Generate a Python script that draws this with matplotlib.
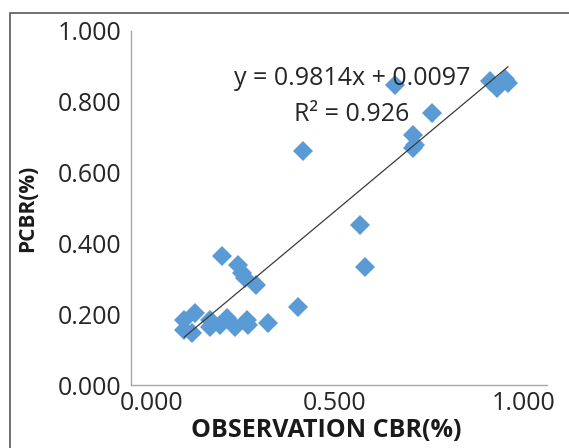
import matplotlib
matplotlib.use("Agg")
import matplotlib.pyplot as plt
import matplotlib.transforms as mtransforms
import numpy as np
from matplotlib.patches import Rectangle

# Datos
x_obs = [0.128, 0.128, 0.154, 0.146, 0.190, 0.190, 0.214, 0.230, 0.250, 0.278,
         0.281, 0.330, 0.218, 0.258, 0.266, 0.274, 0.300, 0.401, 0.414, 0.550,
         0.562, 0.635, 0.679, 0.683, 0.678, 0.723, 0.863, 0.879, 0.899, 0.906]
y_pcbr = [0.184, 0.155, 0.203, 0.146, 0.184, 0.165, 0.170, 0.188, 0.165, 0.184,
          0.170, 0.175, 0.364, 0.339, 0.315, 0.301, 0.282, 0.220, 0.660, 0.452,
          0.334, 0.847, 0.706, 0.678, 0.669, 0.769, 0.860, 0.838, 0.864, 0.853]

pendiente = 0.9814  # Pendiente de la linea de tendencia
ordenada = 0.0097  # Ordenada al origen
r2 = 0.926

x_ticks = [0.0, 0.5, 1.0]
y_ticks = [0.0, 0.2, 0.4, 0.6, 0.8, 1.0]

plt.rcParams['font.family'] = ['Open Sans', 'DejaVu Sans']

fig = plt.figure(figsize=(5.69, 4.48), dpi=100)
ax = fig.add_axes([131 / 569, 1 - 385 / 448, 416 / 569, 354 / 448])

# Puntos
ax.plot(x_obs, y_pcbr, linestyle="none", marker="D", markersize=9.8,
        color="#5B9BD5", markeredgewidth=0)

# Linea de tendencia
xt = np.array([min(x_obs), max(x_obs)])
ax.plot(xt, pendiente * xt + ordenada, color="#3a3a3a", linewidth=0.9)

ax.text(0.531, 0.867, "y = %.4fx + %.4f" % (pendiente, ordenada), ha="center",
        va="center", fontsize=18, color="#262626")
ax.text(0.531, 0.763, "R² = %.3f" % r2, ha="center", va="center", fontsize=18,
        color="#262626")

ax.set_xlim(0, 1)
ax.set_ylim(0, 1)
ax.set_xticks(x_ticks)
ax.set_yticks(y_ticks)
ax.set_xticklabels(["%.3f" % v for v in x_ticks])
ax.set_yticklabels(["%.3f" % v for v in y_ticks])
ax.tick_params(length=0, labelsize=18, labelcolor="#262626")
ax.tick_params(axis="x", pad=4)
ax.tick_params(axis="y", pad=7)

# Las etiquetas del eje x estan corridas en la imagen original
desplazamientos = [21, -4, -23]
for lbl, dx in zip(ax.get_xticklabels(), desplazamientos):
    lbl.set_transform(lbl.get_transform() +
                      mtransforms.ScaledTranslation(dx / 100, 0, fig.dpi_scale_trans))

for s in ["top", "right"]:
    ax.spines[s].set_visible(False)
for s in ["left", "bottom"]:
    ax.spines[s].set_color("#a6a6a6")
    ax.spines[s].set_linewidth(1.0)

fig.text(28 / 569, 1 - 208 / 448, "PCBR(%)", rotation=90, ha="center",
         va="center", fontsize=15, fontweight="bold", color="#1a1a1a")
fig.text(326 / 569, 1 - 430 / 448, "OBSERVATION CBR(%)", ha="center",
         va="center", fontsize=18, fontweight="bold", color="#1a1a1a")

# Borde del area del grafico (recortado en la imagen)
fig.patches.append(Rectangle((10 / 569, -0.1), 1.2, 1 - 13 / 448 + 0.1,
                             transform=fig.transFigure, fill=False,
                             edgecolor="#595959", linewidth=1.2))

fig.savefig("out.png", dpi=100)
